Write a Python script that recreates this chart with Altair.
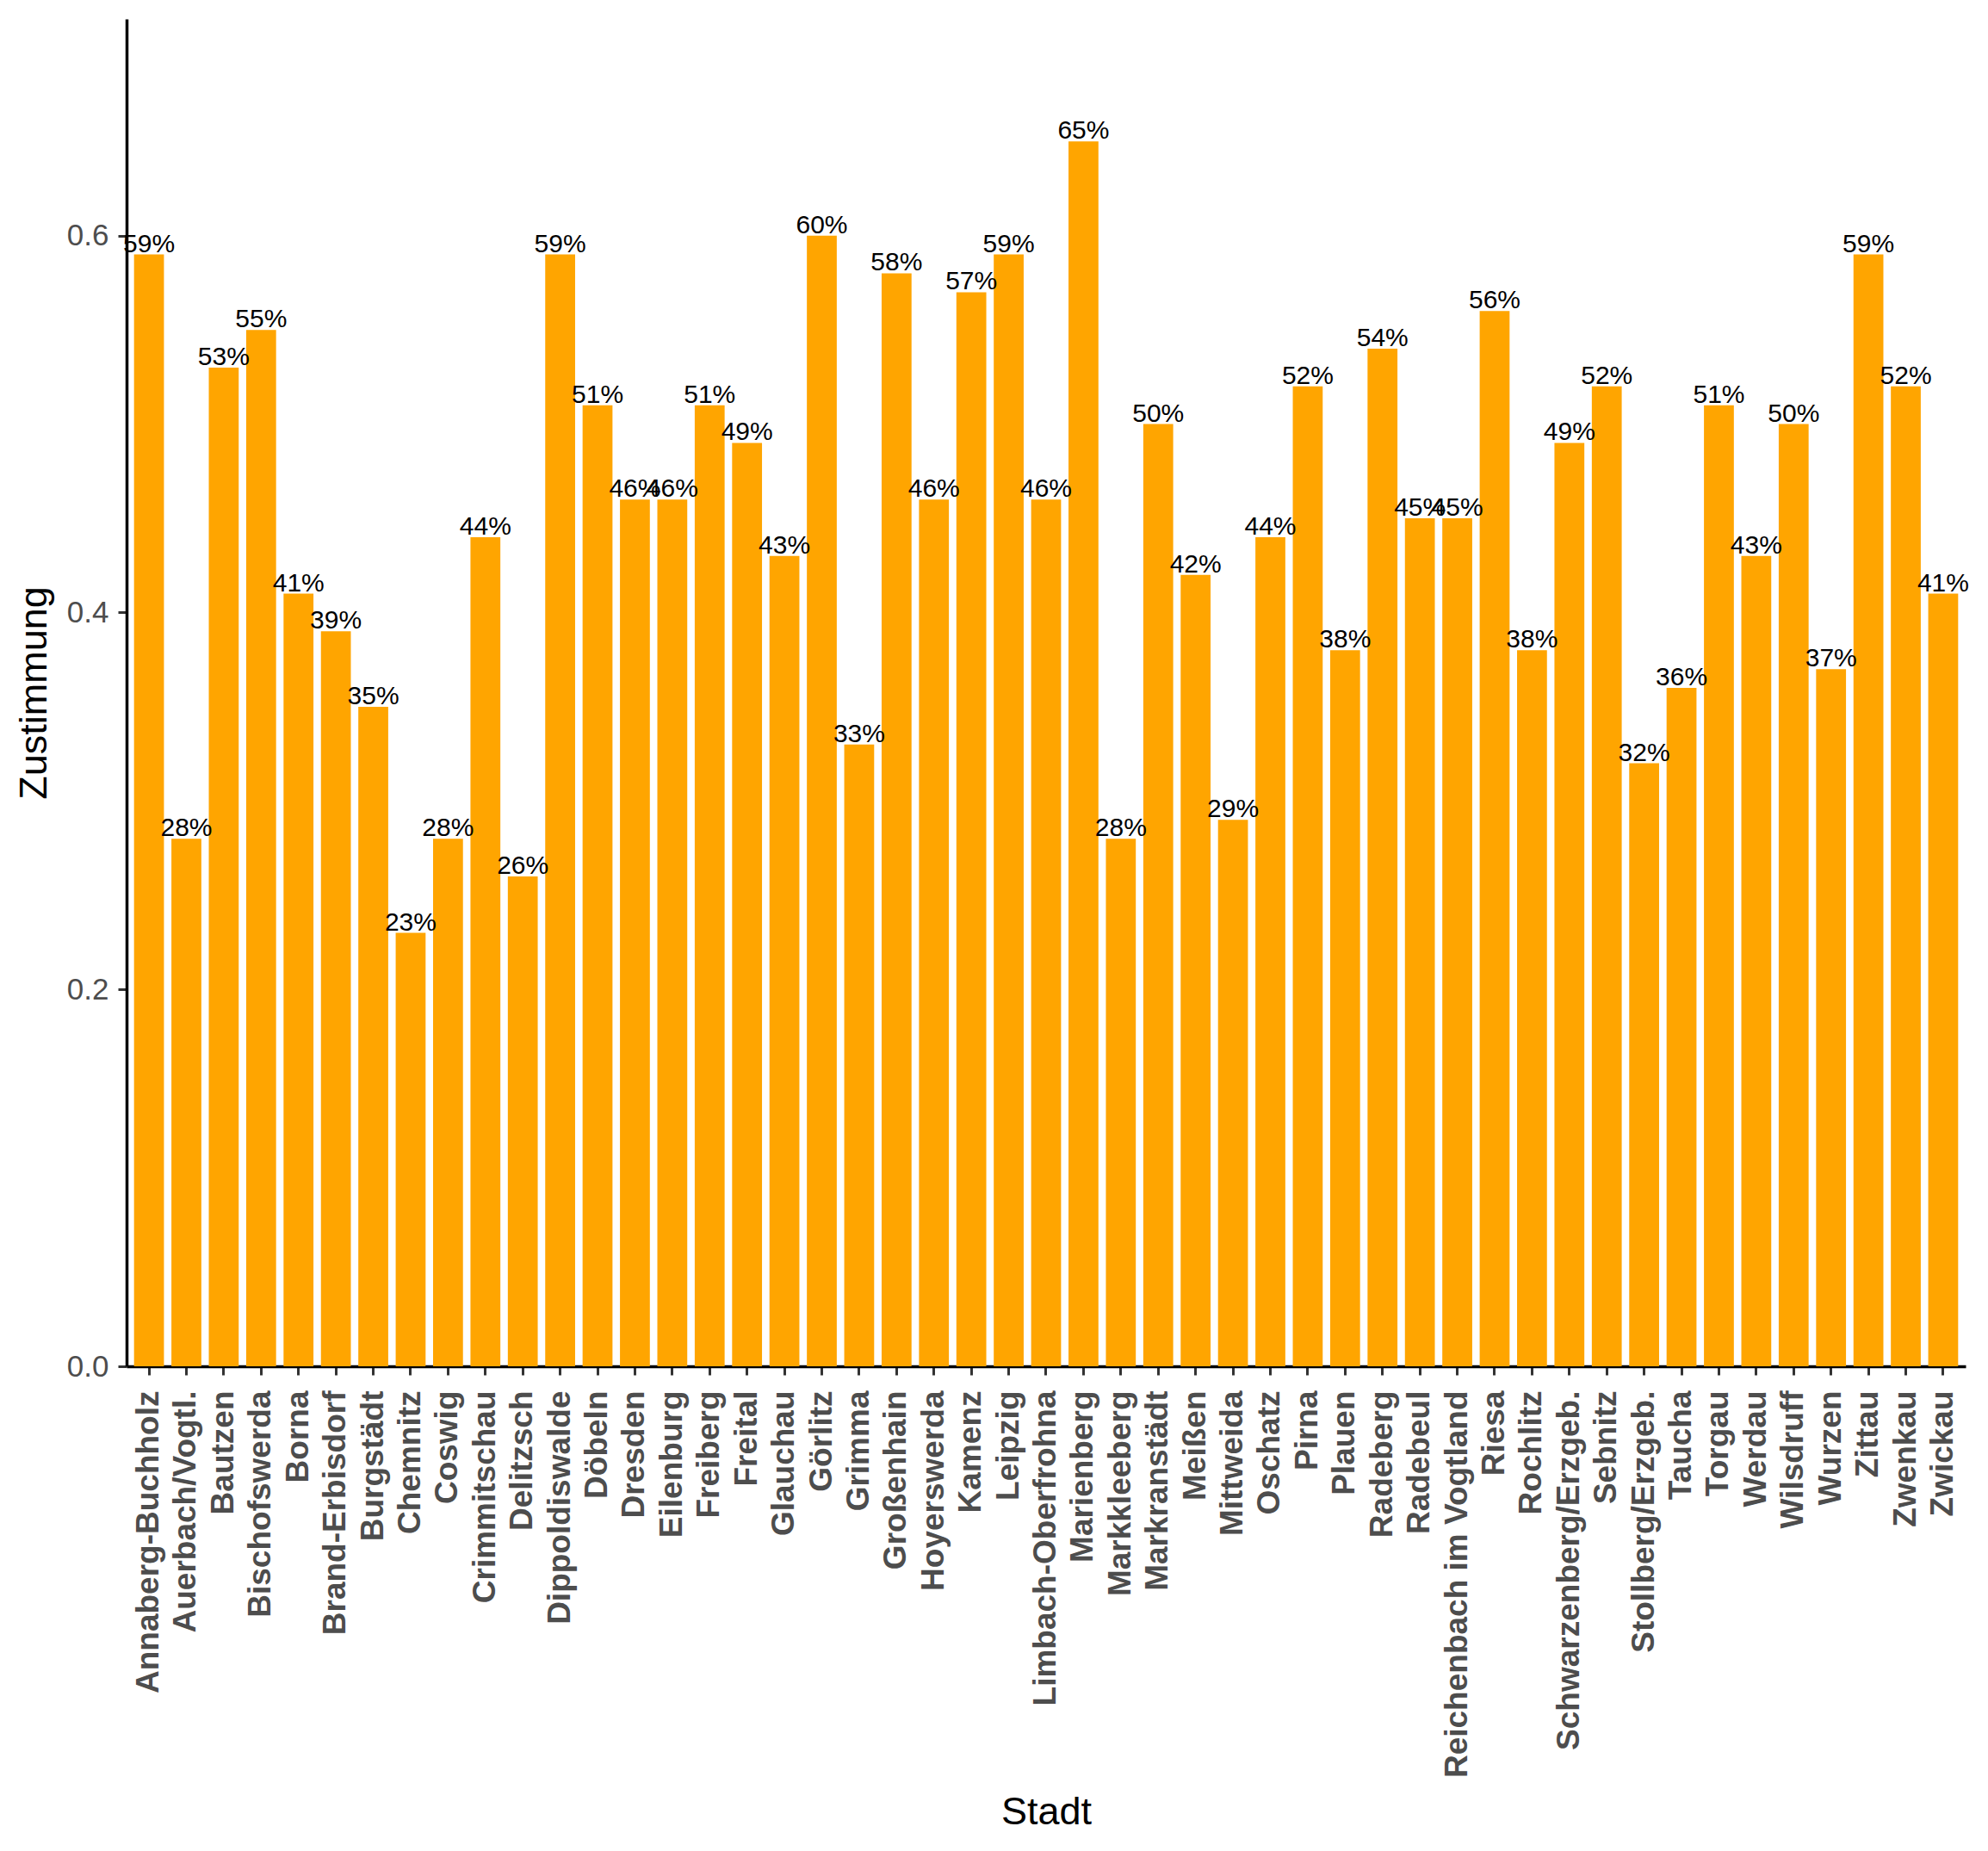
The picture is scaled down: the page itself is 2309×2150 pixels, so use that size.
import altair as alt
import pandas as pd

staedte = [
    "Annaberg-Buchholz", "Auerbach/Vogtl.", "Bautzen", "Bischofswerda", "Borna",
    "Brand-Erbisdorf", "Burgstädt", "Chemnitz", "Coswig", "Crimmitschau",
    "Delitzsch", "Dippoldiswalde", "Döbeln", "Dresden", "Eilenburg",
    "Freiberg", "Freital", "Glauchau", "Görlitz", "Grimma",
    "Großenhain", "Hoyerswerda", "Kamenz", "Leipzig", "Limbach-Oberfrohna",
    "Marienberg", "Markkleeberg", "Markranstädt", "Meißen", "Mittweida",
    "Oschatz", "Pirna", "Plauen", "Radeberg", "Radebeul",
    "Reichenbach im Vogtland", "Riesa", "Rochlitz", "Schwarzenberg/Erzgeb.", "Sebnitz",
    "Stollberg/Erzgeb.", "Taucha", "Torgau", "Werdau", "Wilsdruff",
    "Wurzen", "Zittau", "Zwenkau", "Zwickau",
]

zustimmung = [
    0.59, 0.28, 0.53, 0.55, 0.41,
    0.39, 0.35, 0.23, 0.28, 0.44,
    0.26, 0.59, 0.51, 0.46, 0.46,
    0.51, 0.49, 0.43, 0.60, 0.33,
    0.58, 0.46, 0.57, 0.59, 0.46,
    0.65, 0.28, 0.50, 0.42, 0.29,
    0.44, 0.52, 0.38, 0.54, 0.45,
    0.45, 0.56, 0.38, 0.49, 0.52,
    0.32, 0.36, 0.51, 0.43, 0.50,
    0.37, 0.59, 0.52, 0.41,
]

y_ticks = [0.0, 0.2, 0.4, 0.6]

df = pd.DataFrame({"Stadt": staedte, "Zustimmung": zustimmung})

FONT = "Liberation Sans"

x_enc = alt.X(
    "Stadt:N",
    sort=staedte,
    title="Stadt",
    scale=alt.Scale(paddingInner=0.2, paddingOuter=0.2),
    axis=alt.Axis(
        labelAngle=-90,
        labelAlign="right",
        labelBaseline="middle",
        labelFont=FONT,
        labelFontWeight="bold",
        labelFontSize=37,
        labelColor="#4D4D4D",
        labelLimit=1000,
        labelPadding=18,
        labelOverlap=False,
        tickSize=10,
        titleFont=FONT,
        titleFontSize=45,
        titleFontWeight="normal",
        titleColor="black",
        titleBaseline="alphabetic",
        titleY=531,
    ),
)

y_enc = alt.Y(
    "Zustimmung:Q",
    title="Zustimmung",
    scale=alt.Scale(domain=[0, 0.715], nice=False, zero=True),
    axis=alt.Axis(
        values=y_ticks,
        format=".1f",
        labelFont=FONT,
        labelFontSize=35,
        labelColor="#4D4D4D",
        labelPadding=11,
        tickSize=10,
        titleFont=FONT,
        titleFontSize=45,
        titleFontWeight="normal",
        titleColor="black",
        titlePadding=15,
    ),
)

bars = alt.Chart(df).mark_bar(color="#FFA500").encode(x=x_enc, y=y_enc)

labels = alt.Chart(df).mark_text(
    font=FONT, fontSize=30, color="black", baseline="alphabetic", align="center", dy=-3
).encode(
    x=alt.X("Stadt:N", sort=staedte),
    y=alt.Y("Zustimmung:Q"),
    text=alt.Text("Zustimmung:Q", format=".0%"),
)

chart = (
    alt.layer(bars, labels)
    .properties(
        width=2136,
        height=1565,
        padding={"left": 9, "top": 14, "right": 0, "bottom": 0},
        background="white",
    )
    .configure_view(stroke=None)
    .configure_axis(
        grid=False,
        domainColor="black",
        domainWidth=3.5,
        tickColor="#333333",
        tickWidth=3,
    )
)

chart.save("out.html", embed_options={"renderer": "svg", "actions": False})
